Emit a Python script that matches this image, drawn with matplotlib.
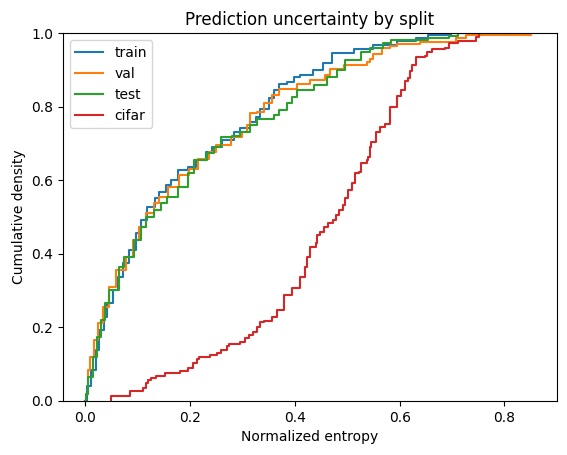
import numpy as np
import matplotlib
matplotlib.use('Agg')
import matplotlib.pyplot as plt

# step knots (entropy, cumulative fraction)
train_x = [0.0, 0.003, 0.011, 0.02, 0.0266, 0.036, 0.042, 0.052, 0.0614, 0.071,
           0.0836, 0.0963, 0.1058, 0.1184, 0.132, 0.141, 0.154, 0.163, 0.176, 0.195,
           0.211, 0.23, 0.2425, 0.2615, 0.284, 0.296, 0.315, 0.325, 0.334, 0.35,
           0.36, 0.369, 0.385, 0.398, 0.41, 0.435, 0.454, 0.47, 0.512, 0.55,
           0.594, 0.632, 0.654, 0.698, 0.80]
train_y = [0.0, 0.04, 0.084, 0.139, 0.193, 0.229, 0.265, 0.302, 0.338, 0.374,
           0.41, 0.456, 0.492, 0.528, 0.551, 0.569, 0.587, 0.60, 0.628, 0.637,
           0.655, 0.677, 0.691, 0.709, 0.732, 0.741, 0.759, 0.773, 0.795, 0.823,
           0.845, 0.863, 0.868, 0.881, 0.886, 0.90, 0.918, 0.945, 0.958, 0.968,
           0.98, 0.986, 0.994, 1.0, 1.0]

val_x = [0.0, 0.001, 0.0044, 0.009, 0.017, 0.0234, 0.033, 0.0456, 0.058, 0.077,
         0.09, 0.1026, 0.115, 0.131, 0.141, 0.157, 0.179, 0.198, 0.214, 0.236,
         0.249, 0.277, 0.2995, 0.309, 0.315, 0.328, 0.341, 0.3565, 0.369, 0.404,
         0.429, 0.458, 0.467, 0.493, 0.537, 0.544, 0.55, 0.566, 0.581, 0.594,
         0.638, 0.708, 0.727, 0.85, 0.858]
val_y = [0.0, 0.02, 0.084, 0.12, 0.166, 0.211, 0.256, 0.311, 0.356, 0.392,
         0.4375, 0.474, 0.51, 0.537, 0.555, 0.583, 0.614, 0.632, 0.659, 0.677,
         0.696, 0.718, 0.732, 0.75, 0.782, 0.786, 0.809, 0.832, 0.847, 0.861,
         0.872, 0.886, 0.904, 0.913, 0.922, 0.93, 0.943, 0.959, 0.964, 0.97,
         0.977, 0.986, 0.994, 1.0, 1.0]

test_x = [0.0, 0.001, 0.0044, 0.0139, 0.0215, 0.03, 0.038, 0.0456, 0.0646, 0.074,
          0.093, 0.1058, 0.115, 0.131, 0.1437, 0.156, 0.176, 0.195, 0.2075, 0.233,
          0.2455, 0.258, 0.2805, 0.296, 0.315, 0.328, 0.36, 0.369, 0.385, 0.394,
          0.404, 0.436, 0.461, 0.48, 0.496, 0.527, 0.544, 0.568, 0.584, 0.654,
          0.695, 0.711, 0.809]
test_y = [0.0, 0.02, 0.066, 0.12, 0.175, 0.22, 0.265, 0.302, 0.365, 0.392,
          0.4375, 0.474, 0.50, 0.519, 0.537, 0.555, 0.583, 0.619, 0.655, 0.673,
          0.691, 0.7165, 0.72, 0.732, 0.75, 0.768, 0.777, 0.791, 0.809, 0.827,
          0.845, 0.859, 0.881, 0.90, 0.927, 0.949, 0.959, 0.973, 0.981, 0.986,
          0.993, 1.0, 1.0]

cifar_x = [0.048, 0.049, 0.0855, 0.1095, 0.116, 0.119, 0.125, 0.135, 0.1525, 0.180,
           0.195, 0.2045, 0.2127, 0.217, 0.238, 0.252, 0.258, 0.27, 0.274, 0.296,
           0.3045, 0.312, 0.32, 0.328, 0.334, 0.341, 0.356, 0.366, 0.379, 0.394,
           0.41, 0.4185, 0.423, 0.429, 0.4406, 0.443, 0.448, 0.456, 0.464, 0.473,
           0.4786, 0.485, 0.491, 0.496, 0.502, 0.508, 0.515, 0.523, 0.527, 0.537,
           0.54, 0.543, 0.546, 0.555, 0.562, 0.572, 0.581, 0.594, 0.603, 0.61,
           0.616, 0.619, 0.624, 0.631, 0.648, 0.652, 0.662, 0.686, 0.695, 0.711,
           0.745, 0.752]
cifar_y = [0.0, 0.0136, 0.028, 0.034, 0.048, 0.057, 0.061, 0.068, 0.075, 0.082,
           0.089, 0.102, 0.113, 0.12, 0.126, 0.131, 0.138, 0.148, 0.154, 0.161,
           0.17, 0.179, 0.188, 0.202, 0.215, 0.218, 0.229, 0.247, 0.288, 0.306,
           0.338, 0.365, 0.392, 0.419, 0.43, 0.451, 0.46, 0.472, 0.483, 0.492,
           0.505, 0.519, 0.533, 0.551, 0.573, 0.592, 0.619, 0.623, 0.646, 0.655,
           0.664, 0.691, 0.705, 0.732, 0.745, 0.753, 0.80, 0.828, 0.846, 0.869,
           0.878, 0.896, 0.914, 0.934, 0.938, 0.948, 0.956, 0.959, 0.973, 0.979,
           0.991, 1.0]

fig = plt.figure(figsize=(5.67, 4.55), dpi=100)
ax = fig.add_axes([0.111, 0.119, 0.871, 0.808])

ax.step(train_x, train_y, where='post', label='train')
ax.step(val_x, val_y, where='post', label='val')
ax.step(test_x, test_y, where='post', label='test')
ax.step(cifar_x, cifar_y, where='post', label='cifar')

ax.set_xlim(-0.043, 0.9)
ax.set_ylim(0, 1)
ax.set_xticks([0.0, 0.2, 0.4, 0.6, 0.8])
ax.set_title('Prediction uncertainty by split')
ax.set_xlabel('Normalized entropy')
ax.set_ylabel('Cumulative density')
ax.legend(loc='upper left')

fig.savefig('out.png', dpi=100)
